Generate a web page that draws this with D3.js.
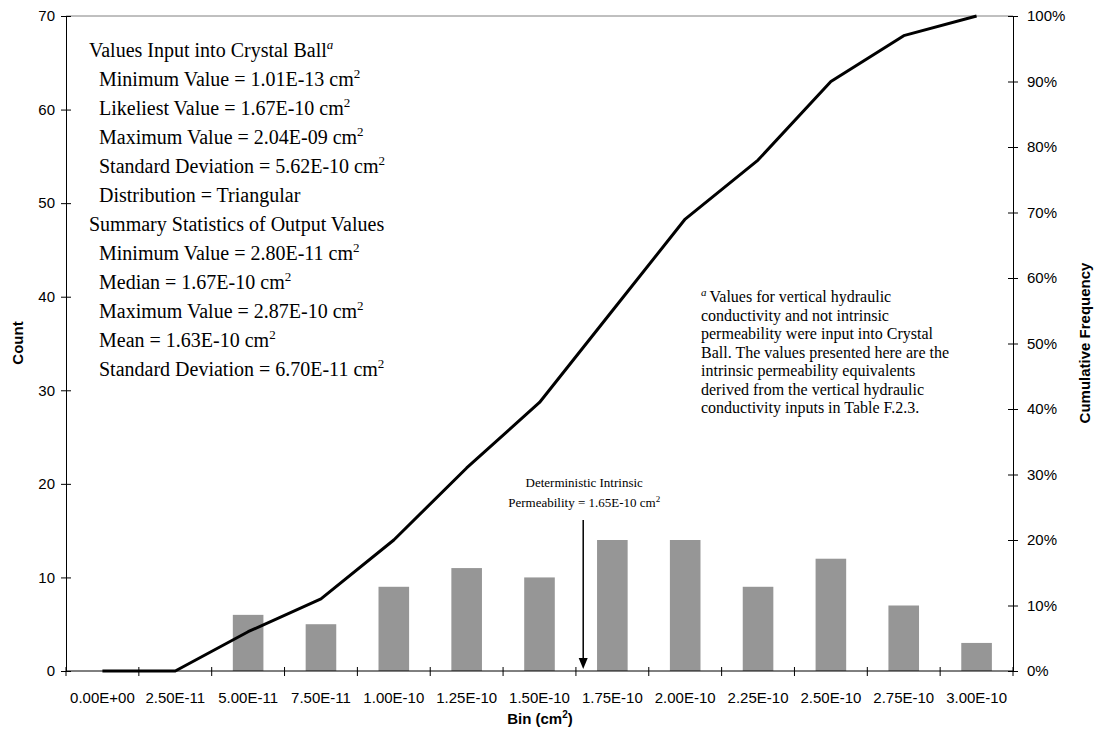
<!DOCTYPE html>
<html>
<head>
<meta charset="utf-8">
<title>Intrinsic permeability histogram</title>
<script src="https://cdn.jsdelivr.net/npm/d3@7"></script>
<style>
  body { margin: 0; background: #fff; }
  svg { display: block; }
  .tick text { font-family: "Liberation Sans", Arial, sans-serif; font-size: 15px; fill: #000; }
  .serif { font-family: "Liberation Serif", "Times New Roman", serif; fill: #000; }
  .title { font-family: "Liberation Sans", Arial, sans-serif; font-size: 15px; font-weight: bold; }
</style>
</head>
<body>
<svg id="chart"></svg>
<script>
// data
var bins = ["0.00E+00", "2.50E-11", "5.00E-11", "7.50E-11", "1.00E-10", "1.25E-10", "1.50E-10",
            "1.75E-10", "2.00E-10", "2.25E-10", "2.50E-10", "2.75E-10", "3.00E-10"];
var binValues = [0, 2.5e-11, 5e-11, 7.5e-11, 1e-10, 1.25e-10, 1.5e-10, 1.75e-10, 2e-10, 2.25e-10, 2.5e-10, 2.75e-10, 3e-10];
var counts = [0, 0, 6, 5, 9, 11, 10, 14, 14, 9, 12, 7, 3];
var cumulative = [0, 0, 0.06, 0.11, 0.20, 0.31, 0.41, 0.55, 0.69, 0.78, 0.90, 0.97, 1.00];
var deterministic = 1.65e-10;

var inputHeading = "Values Input into Crystal Ball";
var inputLines = ["Minimum Value = 1.01E-13 cm", "Likeliest Value = 1.67E-10 cm",
                  "Maximum Value = 2.04E-09 cm", "Standard Deviation = 5.62E-10 cm",
                  "Distribution = Triangular"];
var outputHeading = "Summary Statistics of Output Values";
var outputLines = ["Minimum Value = 2.80E-11 cm", "Median = 1.67E-10 cm",
                   "Maximum Value = 2.87E-10 cm", "Mean = 1.63E-10 cm",
                   "Standard Deviation = 6.70E-11 cm"];
var noteLines = ["Values for vertical hydraulic", "conductivity and not intrinsic",
                 "permeability were input into Crystal", "Ball. The values presented here are the",
                 "intrinsic permeability equivalents", "derived from the vertical hydraulic",
                 "conductivity inputs in Table F.2.3."];

var WIDTH = 1095, HEIGHT = 735;
var LEFT = 66, RIGHT = 1013, TOP = 16, BOTTOM = 671;

var svg = d3.select("#chart").attr("width", WIDTH).attr("height", HEIGHT);

var x = d3.scaleBand().domain(bins).range([LEFT, RIGHT]).padding(0);
var y = d3.scaleLinear().domain([0, 70]).range([BOTTOM, TOP]);
var yPct = d3.scaleLinear().domain([0, 1]).range([BOTTOM, TOP]);
// continuous position of a value along the bin axis (bin centres)
var xVal = d3.scaleLinear()
    .domain([binValues[0], binValues[binValues.length - 1]])
    .range([x(bins[0]) + x.bandwidth() / 2, x(bins[bins.length - 1]) + x.bandwidth() / 2]);

// gray plot area top border
svg.append("line")
   .attr("x1", LEFT).attr("x2", RIGHT).attr("y1", TOP).attr("y2", TOP)
   .attr("stroke", "#808080").attr("stroke-width", 1);

// bars
var barW = x.bandwidth() * 0.42;
svg.selectAll("rect.bar")
   .data(counts)
   .enter()
   .append("rect")
   .attr("class", "bar")
   .attr("x", function(d, i){ return x(bins[i]) + (x.bandwidth() - barW) / 2; })
   .attr("y", function(d){ return y(d); })
   .attr("width", barW)
   .attr("height", function(d){ return y(0) - y(d); })
   .attr("fill", "#969696");

// left axis
var gl = svg.append("g")
   .attr("transform", "translate(" + LEFT + ",0)")
   .call(d3.axisLeft(y).ticks(7).tickSize(5).tickSizeOuter(0).tickPadding(6));
gl.selectAll(".tick line").attr("x1", 5);

// right axis
var gr = svg.append("g")
   .attr("transform", "translate(" + RIGHT + ",0)")
   .call(d3.axisRight(yPct).ticks(10).tickFormat(d3.format(".0%")).tickSize(5).tickSizeOuter(0).tickPadding(9));
gr.selectAll(".tick line").attr("x1", -5);

// bottom axis: labels centred in bins, ticks on bin edges
var gb = svg.append("g")
   .attr("transform", "translate(0," + BOTTOM + ")")
   .call(d3.axisBottom(x).tickSize(0).tickPadding(21));
gb.select(".domain").remove();
svg.append("line")
   .attr("x1", LEFT).attr("x2", RIGHT).attr("y1", BOTTOM).attr("y2", BOTTOM)
   .attr("stroke", "#000");
var edges = bins.map(function(b){ return x(b); }).concat([RIGHT]);
svg.selectAll("line.edge")
   .data(edges)
   .enter()
   .append("line")
   .attr("class", "edge")
   .attr("x1", function(d){ return d; }).attr("x2", function(d){ return d; })
   .attr("y1", BOTTOM - 4).attr("y2", BOTTOM + 5)
   .attr("stroke", "#000");

// cumulative line
var line = d3.line()
   .x(function(d, i){ return x(bins[i]) + x.bandwidth() / 2; })
   .y(function(d){ return yPct(d); });
svg.append("path")
   .datum(cumulative)
   .attr("d", line)
   .attr("fill", "none")
   .attr("stroke", "#000")
   .attr("stroke-width", 3)
   .attr("stroke-linejoin", "round");

// axis titles
svg.append("text").attr("class", "title")
   .attr("transform", "translate(23,343) rotate(-90)")
   .attr("text-anchor", "middle")
   .text("Count");
svg.append("text").attr("class", "title")
   .attr("transform", "translate(1090,343) rotate(-90)")
   .attr("text-anchor", "middle")
   .text("Cumulative Frequency");
var bt = svg.append("text").attr("class", "title")
   .attr("x", 540).attr("y", 724)
   .attr("text-anchor", "middle");
bt.append("tspan").text("Bin (cm");
bt.append("tspan").attr("font-size", "10px").attr("dy", -6).text("2");
bt.append("tspan").attr("dy", 6).text(")");

// helper: text line ending in a superscript 2
function supLine(sel, txt, size, supSize, raise) {
  sel.append("tspan").text(txt);
  if (/ cm$/.test(txt)) {
    sel.append("tspan").attr("font-size", supSize + "px").attr("dy", -raise).text("2");
  }
}

// left text block
var LH = 29;
var h1 = svg.append("text").attr("class", "serif").attr("font-size", "20px")
   .attr("x", 89).attr("y", 57);
h1.append("tspan").text(inputHeading);
h1.append("tspan").attr("font-size", "13px").attr("font-style", "italic").attr("dy", -8).text("a");

inputLines.forEach(function(t, i){
  var el = svg.append("text").attr("class", "serif").attr("font-size", "20px")
     .attr("x", 99).attr("y", 57 + LH * (i + 1));
  supLine(el, t, 20, 13, 8);
});
svg.append("text").attr("class", "serif").attr("font-size", "20px")
   .attr("x", 89).attr("y", 57 + LH * (inputLines.length + 1))
   .text(outputHeading);
outputLines.forEach(function(t, i){
  var el = svg.append("text").attr("class", "serif").attr("font-size", "20px")
     .attr("x", 99).attr("y", 57 + LH * (inputLines.length + 2 + i));
  supLine(el, t, 20, 13, 8);
});

// footnote block
noteLines.forEach(function(t, i){
  var el = svg.append("text").attr("class", "serif").attr("font-size", "16px")
     .attr("x", 701).attr("y", 302 + 18.5 * i);
  if (i === 0) {
    el.append("tspan").attr("font-size", "11px").attr("font-style", "italic").attr("dy", -6).text("a");
    el.append("tspan").attr("dy", 6).attr("dx", 3).text(t);
  } else {
    el.text(t);
  }
});

// deterministic value arrow
var ax = xVal(deterministic);
svg.append("line")
   .attr("x1", ax).attr("x2", ax).attr("y1", 520).attr("y2", 660)
   .attr("stroke", "#000").attr("stroke-width", 1.5);
svg.append("path")
   .attr("d", "M" + (ax - 4.5) + "," + 658 + "L" + (ax + 4.5) + "," + 658 + "L" + ax + "," + 669 + "Z")
   .attr("fill", "#000");
svg.append("text").attr("class", "serif").attr("font-size", "13px")
   .attr("x", ax + 1).attr("y", 487).attr("text-anchor", "middle")
   .text("Deterministic Intrinsic");
var pl = svg.append("text").attr("class", "serif").attr("font-size", "13px")
   .attr("x", ax + 1).attr("y", 507).attr("text-anchor", "middle");
pl.append("tspan").text("Permeability = 1.65E-10 cm");
pl.append("tspan").attr("font-size", "9px").attr("dy", -5).text("2");
</script>
</body>
</html>
